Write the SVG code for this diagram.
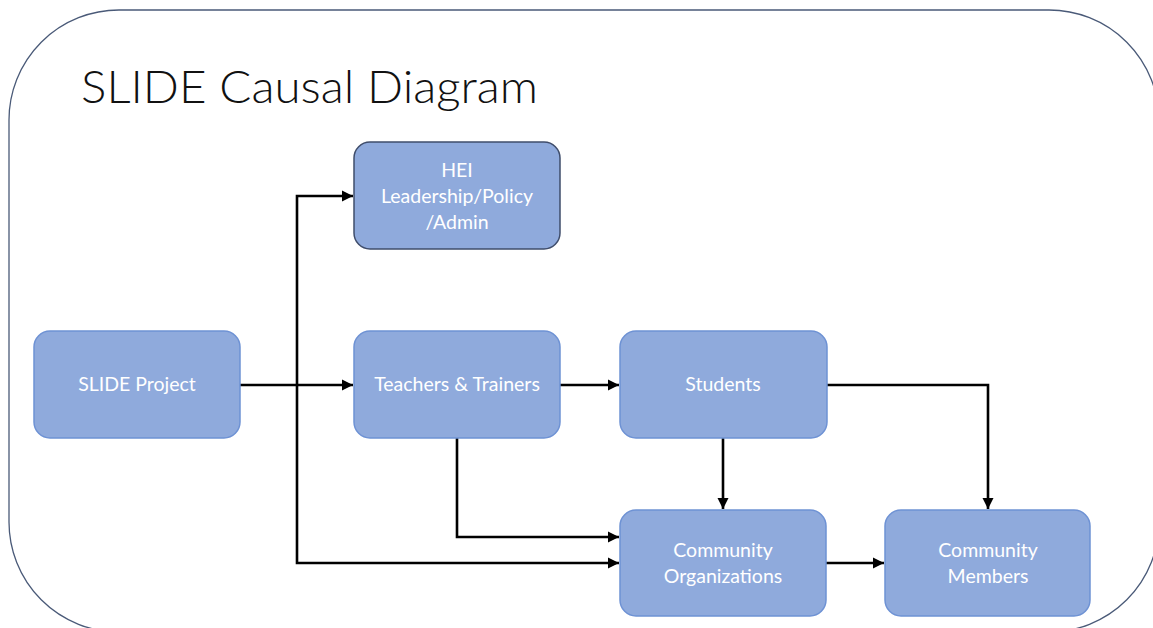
<svg xmlns="http://www.w3.org/2000/svg" width="1153" height="628" viewBox="0 0 1153 628">
<style>
.frame{fill:#fff;stroke:#4a5a78;stroke-width:1.3}
.box{fill:#8faadc;stroke:#6e92d4;stroke-width:1.5}
.box.dark{stroke:#3f4d6b}
.lbl{font-family:Lato,"Open Sans","Liberation Sans",sans-serif;font-size:19.5px;fill:#ffffff;text-anchor:middle}
.title{font-family:Lato,"Open Sans","Liberation Sans",sans-serif;font-weight:300;font-size:46px;fill:#111}
.conn path{fill:none;stroke:#000;stroke-width:2.6;stroke-linejoin:miter}
</style>
<defs>
<marker id="ah" viewBox="0 0 10 10" refX="10" refY="5" markerWidth="4.4" markerHeight="4.4" markerUnits="strokeWidth" orient="auto">
<path d="M0,0 L10,5 L0,10 z" fill="#000"/>
</marker>
</defs>
<rect width="1153" height="628" fill="#fff"/>
<rect class="frame" x="9" y="10" width="1150" height="622" rx="110" ry="110"/>
<text class="title" x="81" y="103" textLength="457" lengthAdjust="spacingAndGlyphs">SLIDE Causal Diagram</text>

<g id="connectors" class="conn">
<path d="M240,385 L353,385" marker-end="url(#ah)"/>
<path d="M297,385 L297,196 L353,196" marker-end="url(#ah)"/>
<path d="M297,385 L297,563 L619,563" marker-end="url(#ah)"/>
<path d="M457,438 L457,537 L619,537" marker-end="url(#ah)"/>
<path d="M560,385 L619,385" marker-end="url(#ah)"/>
<path d="M723,438 L723,509" marker-end="url(#ah)"/>
<path d="M827,385 L988,385 L988,509" marker-end="url(#ah)"/>
<path d="M826,563 L884,563" marker-end="url(#ah)"/>
</g>

<g id="slide-project">
<rect class="box" x="34" y="331" width="206" height="107" rx="16"/>
<text class="lbl" x="137" y="391">SLIDE Project</text>
</g>
<g id="hei">
<rect class="box dark" x="354" y="142" width="206" height="107" rx="16"/>
<text class="lbl" x="457" y="177">HEI</text>
<text class="lbl" x="457" y="203">Leadership/Policy</text>
<text class="lbl" x="457" y="229">/Admin</text>
</g>
<g id="teachers">
<rect class="box" x="354" y="331" width="206" height="107" rx="16"/>
<text class="lbl" x="457" y="391">Teachers &amp; Trainers</text>
</g>
<g id="students">
<rect class="box" x="620" y="331" width="207" height="107" rx="16"/>
<text class="lbl" x="723" y="391">Students</text>
</g>
<g id="community-organizations">
<rect class="box" x="620" y="510" width="206" height="106" rx="16"/>
<text class="lbl" x="723" y="557">Community</text>
<text class="lbl" x="723" y="583">Organizations</text>
</g>
<g id="community-members">
<rect class="box" x="885" y="510" width="205" height="106" rx="16"/>
<text class="lbl" x="988" y="557">Community</text>
<text class="lbl" x="988" y="583">Members</text>
</g>
</svg>
